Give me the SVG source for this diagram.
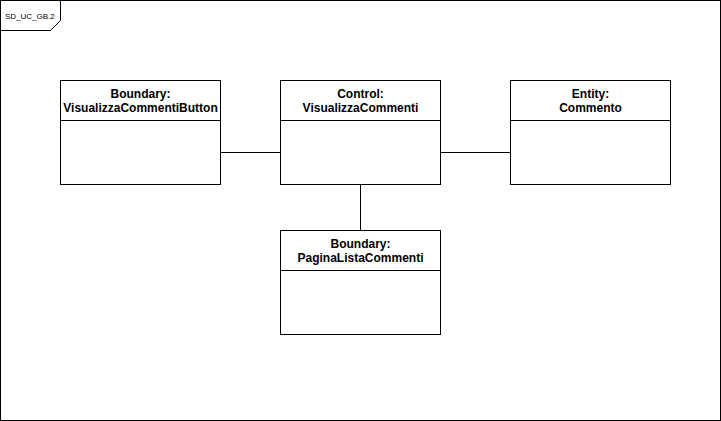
<svg xmlns="http://www.w3.org/2000/svg" width="721" height="421" viewBox="0 0 721 421">
<style>
.box{fill:#fff;stroke:#000;stroke-width:1}
.line{fill:none;stroke:#000;stroke-width:1}
.t{font-family:"Liberation Sans",Arial,sans-serif;font-size:12px;font-weight:bold;text-anchor:middle;fill:#000}
.f{font-family:"Liberation Sans",Arial,sans-serif;font-size:8px;fill:#000}
</style>
<rect x="0" y="0" width="721" height="421" fill="#fff"/>
<g id="frame">
<rect class="line" x="0.5" y="0.5" width="720" height="420"/>
<path class="line" d="M0.5,30.5 H50.5 L60.5,20.5 V0.5"/>
<text class="f" x="5" y="19">SD_UC_GB.2</text>
</g>
<g id="connectors">
<path class="line" d="M220.5,152.5 H280.5"/>
<path class="line" d="M440.5,152.5 H510.5"/>
<path class="line" d="M360.5,184.5 V230.5"/>
</g>
<g id="n1">
<rect class="box" x="60.5" y="80.5" width="160" height="104"/>
<path class="line" d="M60.5,120.5 H220.5"/>
<text class="t" x="140.5" y="98">Boundary:</text>
<text class="t" x="140.5" y="112">VisualizzaCommentiButton</text>
</g>
<g id="n2">
<rect class="box" x="280.5" y="80.5" width="160" height="104"/>
<path class="line" d="M280.5,120.5 H440.5"/>
<text class="t" x="360.5" y="98">Control:</text>
<text class="t" x="360.5" y="112">VisualizzaCommenti</text>
</g>
<g id="n3">
<rect class="box" x="510.5" y="80.5" width="160" height="104"/>
<path class="line" d="M510.5,120.5 H670.5"/>
<text class="t" x="590.5" y="98">Entity:</text>
<text class="t" x="590.5" y="112">Commento</text>
</g>
<g id="n4">
<rect class="box" x="280.5" y="230.5" width="160" height="104"/>
<path class="line" d="M280.5,270.5 H440.5"/>
<text class="t" x="360.5" y="248">Boundary:</text>
<text class="t" x="360.5" y="262">PaginaListaCommenti</text>
</g>
</svg>
